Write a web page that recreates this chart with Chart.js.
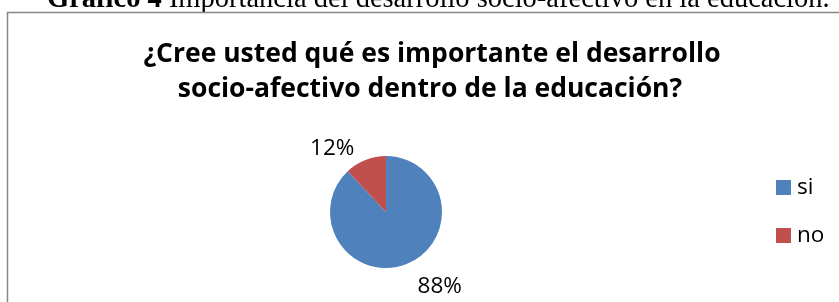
<!DOCTYPE html>
<html>
<head>
<meta charset="utf-8">
<script src="https://cdn.jsdelivr.net/npm/chart.js@4.4.1/dist/chart.umd.min.js"></script>
<style>
  html, body { margin: 0; padding: 0; background: #fff; overflow: hidden; }
  #wrap { width: 839px; height: 302px; }
</style>
</head>
<body>
<div id="wrap"><canvas id="chart" width="839" height="302"></canvas></div>
<script>
// data
const categories = ["si", "no"];
const percentages = [88, 12];
const sliceColors = ["#4F81BD", "#C0504D"];
const titleLines = ["¿Cree usted qué es importante el desarrollo", "socio-afectivo dentro de la educación?"];
const captionBold = "Gráfico 4";
const captionRest = " Importancia del desarrollo socio-afectivo en la educación.";

const LABEL_FONT = '22.5px "Open Sans", sans-serif';

// caption (cut off at the top) + the chart frame
const framePlugin = {
  id: "frame",
  beforeDraw(chart) {
    const ctx = chart.ctx;
    ctx.save();
    ctx.fillStyle = "#fff";
    ctx.fillRect(0, 0, chart.width, chart.height);

    ctx.fillStyle = "#000";
    ctx.textBaseline = "alphabetic";
    ctx.textAlign = "left";
    ctx.font = 'bold 28.5px "Liberation Serif", serif';
    let x = 47;
    ctx.fillText(captionBold, x, 7);
    x += ctx.measureText(captionBold).width;
    ctx.font = '28.5px "Liberation Serif", serif';
    ctx.fillText(captionRest, x, 7);

    ctx.strokeStyle = "#868686";
    ctx.lineWidth = 1.5;
    ctx.strokeRect(7.5, 12.5, chart.width + 20, chart.height + 20);
    ctx.restore();
  }
};

// title, percent labels and legend
const textPlugin = {
  id: "texts",
  afterDraw(chart) {
    const ctx = chart.ctx;
    ctx.save();
    ctx.fillStyle = "#000";
    ctx.font = 'bold 26.5px "Open Sans", sans-serif';
    ctx.textAlign = "center";
    ctx.textBaseline = "alphabetic";
    ctx.fillText(titleLines[0], 432, 62);
    ctx.fillText(titleLines[1], 430, 97);

    // percent labels outside each slice
    const meta = chart.getDatasetMeta(0);
    ctx.font = LABEL_FONT;
    ctx.textBaseline = "alphabetic";
    meta.data.forEach((arc, i) => {
      const mid = (arc.startAngle + arc.endAngle) / 2;
      const dx = Math.cos(mid), dy = Math.sin(mid);
      const ex = arc.x + dx * arc.outerRadius;
      const ey = arc.y + dy * arc.outerRadius;
      ctx.textAlign = dx < 0 ? "right" : "left";
      // labels above the pie sit a little closer than the ones below
      const by = dy < 0 ? ey - 5 : ey + 13 + 16;
      ctx.fillText(percentages[i] + "%", ex + Math.sign(dx) * 11, by);
    });

    // legend
    ctx.textAlign = "left";
    ctx.textBaseline = "middle";
    categories.forEach((name, i) => {
      const y = 187.5 + i * 48;
      ctx.fillStyle = sliceColors[i];
      ctx.fillRect(776, y - 7.5, 15, 15);
      ctx.fillStyle = "#000";
      ctx.fillText(name, 797, y);
    });
    ctx.restore();
  }
};

new Chart(document.getElementById("chart"), {
  type: "pie",
  data: {
    labels: categories,
    datasets: [{
      data: percentages,
      backgroundColor: sliceColors,
      borderWidth: 0
    }]
  },
  options: {
    responsive: false,
    animation: false,
    devicePixelRatio: 1,
    layout: { padding: { left: 330, right: 397, top: 156, bottom: 34 } },
    plugins: {
      legend: { display: false },
      title: { display: false },
      tooltip: { enabled: false }
    }
  },
  plugins: [framePlugin, textPlugin]
});
</script>
</body>
</html>
